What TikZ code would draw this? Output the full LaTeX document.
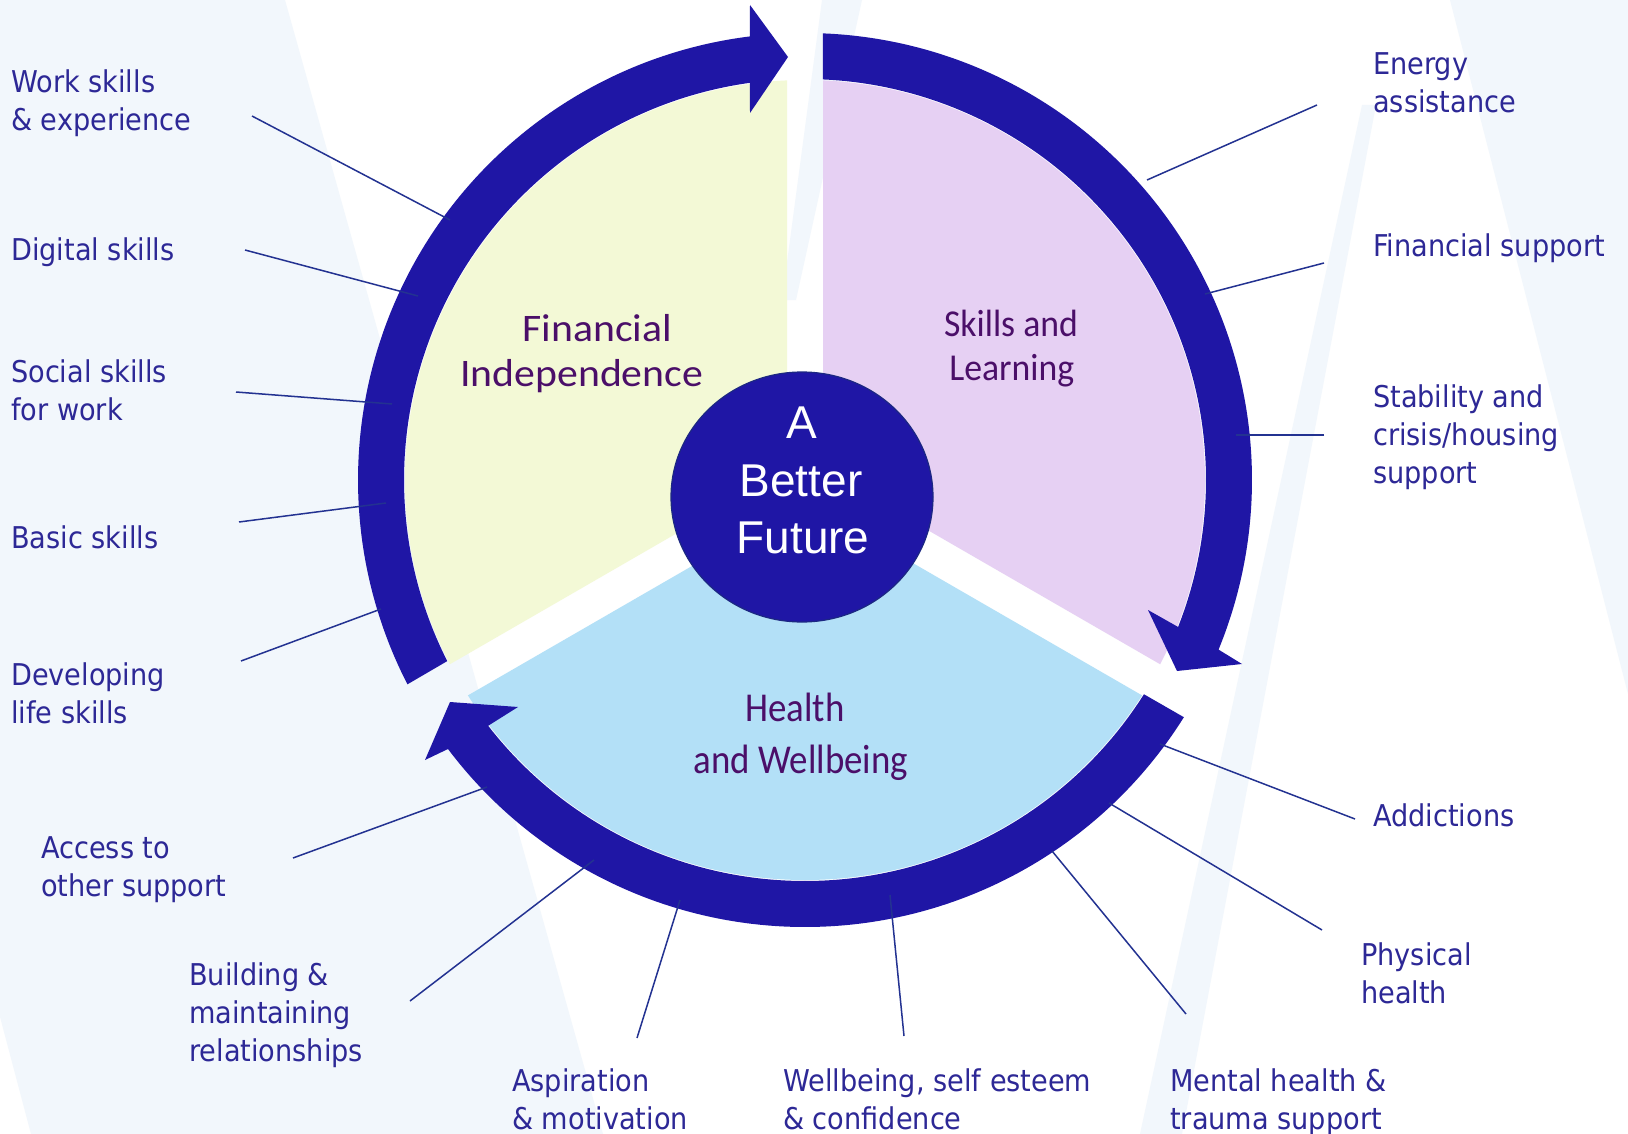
\documentclass[tikz,border=0pt]{standalone}
\usepackage{fontspec}
\usetikzlibrary{calc,shapes.geometric}
\newfontfamily\labfont[FakeStretch=0.905]{DejaVu Sans}
\newfontfamily\secfontA[FakeStretch=1.07]{Carlito}
\newfontfamily\secfontB[FakeStretch=0.94]{Carlito}
\newfontfamily\secfontC[FakeStretch=0.9]{Carlito}
\newfontfamily\ctrfont{Liberation Sans}
\definecolor{ringblue}{RGB}{31,22,165}
\definecolor{ringedge}{RGB}{28,40,130}
\definecolor{labblue}{RGB}{45,40,150}
\definecolor{leadblue}{RGB}{35,50,145}
\definecolor{secpurple}{RGB}{75,15,105}
\definecolor{bglight}{RGB}{242,247,252}
\definecolor{secyellow}{RGB}{243,249,214}
\definecolor{seclilac}{RGB}{230,208,243}
\definecolor{secsky}{RGB}{179,224,247}
\newcommand\twolines[2]{\vtop{\hbox{#1}\hbox{#2}}}
\newcommand\threelines[3]{\vtop{\hbox{#1}\hbox{#2}\hbox{#3}}}
\begin{document}
\begin{tikzpicture}[x=1pt,y={(0pt,-1pt)},
  lab/.style={anchor=base west,inner sep=0pt,text=labblue,font={\labfont\fontsize{30}{38}\selectfont}},
  lead/.style={draw=leadblue,line width=1.5pt},
  secA/.style={anchor=base,inner sep=0pt,text=secpurple,font={\secfontA\fontsize{39}{46}\selectfont}},
  secB/.style={anchor=base,inner sep=0pt,text=secpurple,font={\secfontB\fontsize{38}{44}\selectfont}},
  secC/.style={anchor=base,inner sep=0pt,text=secpurple,font={\secfontC\fontsize{41}{52}\selectfont}},
  ctr/.style={anchor=base,inner sep=0pt,text=white,font={\ctrfont\fontsize{46}{56}\selectfont}}]
\useasboundingbox (0,0) rectangle (1628,1134);
\fill[white] (0,0) rectangle (1628,1134);
% background stripes
\fill[bglight] (-269,0) -- (285,0) -- (603,1134) -- (31,1134) -- cycle;
\fill[bglight] (1450,0) -- (1628,0) -- (1628,694) -- cycle;
\fill[bglight] (1362,105) -- (1376,105) -- (1182,1134) -- (1140,1134) -- cycle;
\fill[bglight] (822,0) -- (862,0) -- (796,300) -- (782,300) -- cycle;
\coordinate (c) at (805,480);
% sectors
\begin{scope}
\clip[shift={(805,480)},rotate=150] (-2000,18) -- (2000,18) -- (2000,2000) -- (-2000,2000) -- cycle;
\clip[shift={(805,480)},rotate=270] (-2000,-18) -- (2000,-18) -- (2000,-2000) -- (-2000,-2000) -- cycle;
\fill[seclilac] (c) circle[radius=400];
\end{scope}
\begin{scope}
\clip[shift={(805,480)},rotate=270] (-2000,18) -- (2000,18) -- (2000,2000) -- (-2000,2000) -- cycle;
\clip[shift={(805,480)},rotate=30] (-2000,-18) -- (2000,-18) -- (2000,-2000) -- (-2000,-2000) -- cycle;
\fill[secyellow] (c) circle[radius=400];
\end{scope}
\begin{scope}
\clip[shift={(805,480)},rotate=30] (-2000,18) -- (2000,18) -- (2000,2000) -- (-2000,2000) -- cycle;
\clip[shift={(805,480)},rotate=150] (-2000,-18) -- (2000,-18) -- (2000,-2000) -- (-2000,-2000) -- cycle;
\fill[secsky] (c) circle[radius=400];
\end{scope}
% ring arrows
\fill[ringblue] ($(c)+(152.8:447)$) arc[start angle=152.8,end angle=262.9,radius=447]
  -- (750,5) -- (788,57) -- (750,113) -- ($(c)+(262.1:401)$)
  arc[start angle=262.1,end angle=153.15,radius=401] -- cycle;
\fill[ringblue] ($(c)+(272.3:447)$) arc[start angle=272.3,end angle=382.3,radius=447]
  -- (1242,664) -- (1177,671) -- (1148,610) -- ($(c)+(381.5:401)$)
  arc[start angle=381.5,end angle=272.57,radius=401] -- cycle;
\fill[ringblue] ($(c)+(32.05:447)$) arc[start angle=32.05,end angle=143.0,radius=447]
  -- (425,760) -- (450,702) -- (518,707) -- ($(c)+(142.2:401)$)
  arc[start angle=142.2,end angle=32.3,radius=401] -- cycle;
% centre
\node[ellipse,draw=ringedge,line width=1.2pt,fill=ringblue,minimum width=262pt,minimum height=250pt,inner sep=0pt] (hub) at (802,497) {};
\node[ctr] (ctA) at (802,438) {A};
\node[ctr] (ctB) at (801,496) {Better};
\node[ctr] (ctC) at (803,553) {Future};
% sector titles
\node[secA] (fi1) at (597.5,341.7) {Financial};
\node[secA] (fi2) at (581.7,386.7) {Independence};
\node[secB] (sl1) at (1011,336.7) {Skills and};
\node[secB] (sl2) at (1011.7,380.7) {Learning};
\node[secC] (hw1) at (795,721.7) {Health};
\node[secC] (hw2) at (800.8,773.3) {and Wellbeing};
% labels
\node[lab] (lw) at (11,93) {\twolines{Work skills}{\& experience}};
\node[lab] (ld) at (11,260) {Digital skills};
\node[lab] (ls) at (11,382) {\twolines{Social skills}{for work}};
\node[lab] (lb) at (11,548) {Basic skills};
\node[lab] (ldv) at (11,685) {\twolines{Developing}{life skills}};
\node[lab] (la) at (41,858) {\twolines{Access to}{other support}};
\node[lab] (lbd) at (189,985) {\threelines{Building \&}{maintaining}{relationships}};
\node[lab] (lasp) at (512,1091) {\twolines{Aspiration}{\& motivation}};
\node[lab] (lwb) at (783,1091) {\twolines{Wellbeing, self esteem}{\& confidence}};
\node[lab] (lmh) at (1170,1091) {\twolines{Mental health \&}{trauma support}};
\node[lab] (lph) at (1361,965) {\twolines{Physical}{health}};
\node[lab] (lad) at (1373,826) {Addictions};
\node[lab] (lst) at (1373,407) {\threelines{Stability and}{crisis/housing}{support}};
\node[lab] (lfs) at (1373,257) {Financial support};
\node[lab] (len) at (1373,75) {\twolines{Energy}{assistance}};
% leader lines
\coordinate (w1) at (252,116); \coordinate (w2) at (450,220);
\coordinate (d1) at (245,250); \coordinate (d2) at (418,296);
\coordinate (s1) at (236,392); \coordinate (s2) at (392,404);
\coordinate (b1) at (239,522); \coordinate (b2) at (386,503);
\coordinate (v1) at (241,661); \coordinate (v2) at (381,609);
\coordinate (a1) at (293,858); \coordinate (a2) at (487,787);
\coordinate (r1) at (410,1001); \coordinate (r2) at (594,860);
\coordinate (m1) at (637,1038); \coordinate (m2) at (680,900);
\coordinate (e1) at (904,1036); \coordinate (e2) at (890,895);
\coordinate (t1) at (1186,1014); \coordinate (t2) at (1052,851);
\coordinate (p1) at (1322,930); \coordinate (p2) at (1109,803);
\coordinate (x1) at (1355,819); \coordinate (x2) at (1160,744);
\coordinate (h1) at (1324,435); \coordinate (h2) at (1236,435);
\coordinate (f1) at (1324,263); \coordinate (f2) at (1205,294);
\coordinate (g1) at (1317,105); \coordinate (g2) at (1147,180);
\foreach \u/\v in {w1/w2,d1/d2,s1/s2,b1/b2,v1/v2,a1/a2,r1/r2,m1/m2,e1/e2,t1/t2,p1/p2,x1/x2,h1/h2,f1/f2,g1/g2}
  \draw[lead] (\u) -- (\v);
\end{tikzpicture}
\end{document}
